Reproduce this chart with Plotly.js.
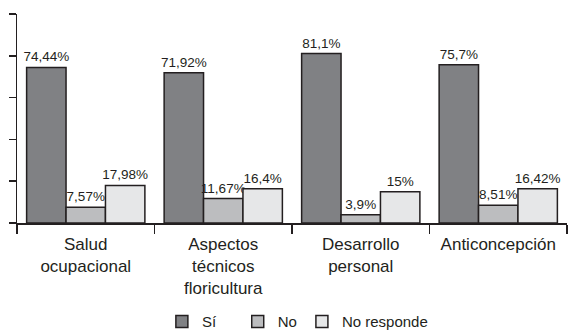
<!DOCTYPE html>
<html>
<head>
<meta charset="utf-8">
<script src="https://cdn.plot.ly/plotly-3.0.1.min.js"></script>
<style>html,body{margin:0;padding:0;background:#fff;}#chart{width:568px;height:330px;}</style>
</head>
<body>
<div id="chart"></div>
<script>
const categories = ["Salud<br>ocupacional", "Aspectos<br>técnicos<br>floricultura", "Desarrollo<br>personal", "Anticoncepción"];
const seriesNames = ["Sí", "No", "No responde"];
const si = [74.44, 71.92, 81.1, 75.7];
const no = [7.57, 11.67, 3.9, 8.51];
const noResponde = [17.98, 16.4, 15, 16.42];
const colors = ["#808184", "#bcbdbf", "#e6e7e8"];
const values = [si, no, noResponde];
const legendPad = ["\u00a0\u00a0\u00a0\u00a0", "", ""];

function fmt(v) { return String(v).replace('.', ',') + '%'; }

const traces = values.map((vals, i) => ({
  type: 'bar',
  name: seriesNames[i] + legendPad[i],
  x: categories,
  y: vals,
  text: vals.map(fmt),
  textposition: 'outside',
  constraintext: 'none',
  cliponaxis: false,
  textfont: {family: 'Liberation Sans Narrow, Arial Narrow, sans-serif', size: 13.5, color: '#231f20'},
  marker: {color: colors[i], line: {color: '#231f20', width: 1.5}},
  hoverinfo: 'none'
}));

const layout = {
  width: 568, height: 330,
  margin: {l: 17, r: 1, t: 14, b: 107},
  paper_bgcolor: '#ffffff', plot_bgcolor: '#ffffff',
  font: {family: 'Liberation Sans, Arial, sans-serif', color: '#231f20'},
  barmode: 'group',
  bargap: 0.14,
  bargroupgap: 0,
  showlegend: true,
  legend: {
    orientation: 'h', xref: 'container', yref: 'container',
    x: 0.285, xanchor: 'left', y: 0.025, yanchor: 'middle',
    font: {size: 15, color: '#231f20'},
    itemwidth: 30, traceorder: 'normal'
  },
  xaxis: {
    showline: true, linecolor: '#231f20', linewidth: 1.5,
    ticks: 'outside', tickson: 'boundaries', ticklen: 9, tickcolor: '#231f20', tickwidth: 1.5,
    tickfont: {size: 17, color: '#231f20'},
    ticklabelstandoff: 5,
    showgrid: false, zeroline: false, fixedrange: true
  },
  yaxis: {
    range: [0, 100], dtick: 20, tick0: 0,
    showline: true, linecolor: '#231f20', linewidth: 1.5,
    ticks: 'outside', ticklen: 7, tickcolor: '#231f20', tickwidth: 1.5,
    showticklabels: false, showgrid: false, zeroline: false, fixedrange: true
  }
};

Plotly.newPlot('chart', traces, layout, {staticPlot: true, displayModeBar: false});
</script>
</body>
</html>
